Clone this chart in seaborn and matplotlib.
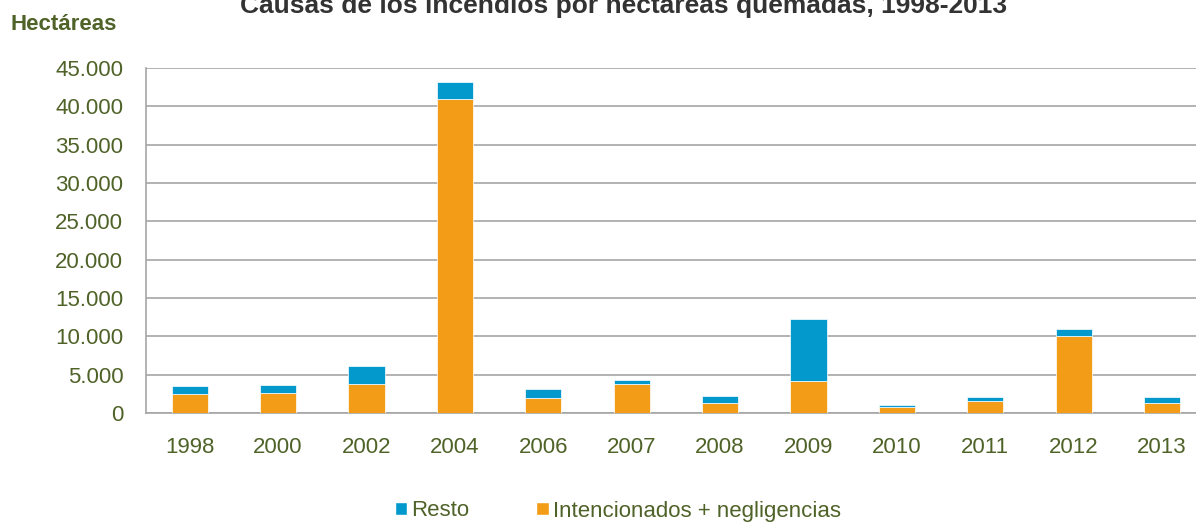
import matplotlib
matplotlib.use("Agg")
import matplotlib.pyplot as plt
import seaborn as sns
import pandas as pd
from matplotlib.patches import Patch
from matplotlib.ticker import FuncFormatter

years = ["1998", "2000", "2002", "2004", "2006", "2007", "2008", "2009", "2010", "2011", "2012", "2013"]
intencionados = [2430, 2610, 3820, 41000, 1900, 3780, 1350, 4230, 740, 1520, 10050, 1260]
total = [3560, 3690, 6130, 43170, 3130, 4340, 2230, 12220, 1000, 2100, 10920, 2100]
resto = [t - i for t, i in zip(total, intencionados)]

df = pd.DataFrame({"year": years, "intencionados": intencionados, "resto": resto})

sns.set_theme(style="white")
plt.rcParams["font.family"] = ["Liberation Sans", "DejaVu Sans"]

ORANGE = "#F39C17"
BLUE = "#0399CD"
TXT = "#4F6228"

fig = plt.figure(figsize=(11.96, 5.26), dpi=100)
ax = fig.add_axes([145.5 / 1196, (526 - 413) / 526, (12 * 88.4) / 1196, (413 - 68) / 526])

sns.barplot(data=df, x="year", y="intencionados", color=ORANGE, width=0.41,
            saturation=1, ax=ax, edgecolor="white", linewidth=0.5, zorder=3)
sns.barplot(data=df, x="year", y="resto", color=BLUE, width=0.41, saturation=1,
            ax=ax, bottom=df["intencionados"], edgecolor="white", linewidth=0.5, zorder=3)

ax.set_ylim(0, 45000)
ax.set_xlim(-0.5, 11.5)
ax.set_yticks(range(0, 45001, 5000))
ax.yaxis.set_major_formatter(FuncFormatter(lambda v, p: f"{int(v):,}".replace(",", ".")))
ax.grid(axis="y", color="#A6A6A6", linewidth=1.2, zorder=0)
ax.set_axisbelow(True)
for s in ["top", "right"]:
    ax.spines[s].set_visible(False)
for s in ["left", "bottom"]:
    ax.spines[s].set_color("#A6A6A6")
    ax.spines[s].set_linewidth(1.2)
ax.set_xlabel("")
ax.set_ylabel("")
ax.tick_params(axis="y", labelsize=16, labelcolor=TXT, length=0, pad=16)
ax.tick_params(axis="x", labelsize=16, labelcolor=TXT, length=0, pad=17)

fig.text(624 / 1196, 1 - 13 / 526, "Causas de los incendios por hectáreas quemadas, 1998-2013",
         ha="center", va="baseline", fontsize=19, fontweight="bold", color="#333333")
fig.text(10 / 1196, 1 - 30 / 526, "Hectáreas", ha="left", va="baseline",
         fontsize=16, fontweight="bold", color=TXT)

handles = [Patch(facecolor=BLUE, label="Resto"),
           Patch(facecolor=ORANGE, label="Intencionados + negligencias")]
fig.legend(handles=handles, loc="center", bbox_to_anchor=(618 / 1196, 1 - 511 / 526),
           ncol=2, frameon=False, fontsize=16, labelcolor=TXT, handlelength=0.55,
           handleheight=0.55, handletextpad=0.2, columnspacing=3.0,
           borderpad=0, borderaxespad=0)

fig.savefig("out.png", dpi=100)
